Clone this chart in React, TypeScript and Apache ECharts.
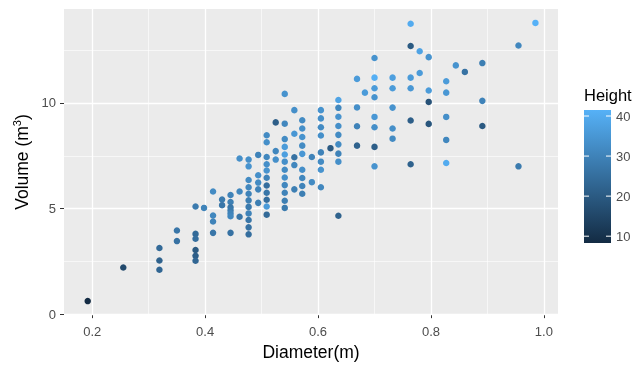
import React, { useEffect, useRef } from "react";
import * as echarts from "echarts";

const diameter = [
  0.192, 0.255, 0.319, 0.319, 0.319, 0.35, 0.35,
  0.383, 0.383, 0.383, 0.383, 0.383, 0.383, 0.398,
  0.414, 0.414, 0.414, 0.414, 0.43, 0.43,
  0.445, 0.445, 0.445, 0.445, 0.445, 0.445, 0.445,
  0.461, 0.461, 0.461,
  0.477, 0.477, 0.477, 0.477, 0.477, 0.477, 0.477, 0.477, 0.477, 0.477, 0.477,
  0.494, 0.494, 0.494, 0.494, 0.494,
  0.509, 0.509, 0.509, 0.509, 0.509, 0.509, 0.509, 0.509, 0.509, 0.509, 0.509,
  0.525, 0.525, 0.525,
  0.541, 0.541, 0.541, 0.541, 0.541, 0.541, 0.541, 0.541, 0.541, 0.541, 0.541, 0.541,
  0.558, 0.558, 0.558, 0.558, 0.558,
  0.572, 0.572, 0.572, 0.572, 0.572, 0.572, 0.572, 0.572, 0.572,
  0.589, 0.589,
  0.605, 0.605, 0.605, 0.605, 0.605, 0.605, 0.605, 0.605,
  0.622,
  0.636, 0.636, 0.636, 0.636, 0.636, 0.636, 0.636, 0.636, 0.636,
  0.669, 0.669, 0.669, 0.669,
  0.683,
  0.7, 0.7, 0.7, 0.7, 0.7, 0.7, 0.7, 0.7,
  0.732, 0.732, 0.732, 0.732, 0.732,
  0.764, 0.764, 0.764, 0.764, 0.764, 0.764,
  0.78, 0.78,
  0.796, 0.796, 0.796, 0.796,
  0.827, 0.827, 0.827, 0.827, 0.827,
  0.844, 0.86,
  0.891, 0.891, 0.891,
  0.955, 0.955,
  0.985,
];

const volume = [
  0.62, 2.21, 3.13, 2.54, 2.1, 3.96, 3.46,
  5.1, 3.8, 3.57, 3.04, 2.76, 2.53, 5.03,
  5.81, 4.67, 4.39, 3.85, 5.43, 5.16,
  5.64, 5.31, 5.06, 4.92, 4.78, 4.64, 3.85,
  7.37, 5.81, 4.61,
  7.32, 7.0, 6.35, 6.01, 5.7, 5.39, 5.08, 4.77, 4.46, 4.11, 3.78,
  7.54, 6.58, 6.23, 5.91, 5.27,
  8.47, 8.14, 7.44, 7.1, 6.8, 6.46, 6.09, 5.75, 5.42, 5.1, 4.71,
  9.08, 7.72, 7.32,
  10.43, 9.02, 8.29, 7.92, 7.56, 7.22, 6.84, 6.47, 6.11, 5.75, 5.37, 5.03,
  9.66, 8.54, 7.43, 7.06, 5.91,
  9.18, 8.79, 8.39, 7.98, 7.59, 6.84, 6.45, 6.07, 5.7,
  7.44, 6.25,
  9.66, 9.27, 8.85, 8.46, 7.66, 7.22, 6.84, 6.01,
  7.86,
  10.14, 9.77, 9.35, 8.91, 8.49, 8.04, 7.6, 7.22, 4.66,
  11.14, 9.79, 8.9, 7.98,
  10.49,
  12.13, 11.2, 10.7, 10.27, 9.34, 8.85, 7.92, 7.0,
  11.2, 10.7, 9.78, 8.79, 8.31,
  13.75, 12.7, 11.2, 10.7, 9.17, 7.1,
  12.45, 11.42,
  12.17, 10.59, 10.05, 9.01,
  11.03, 10.49, 9.34, 8.25, 7.16,
  11.78, 11.47,
  11.89, 10.1, 8.91,
  12.72, 7.0,
  13.79,
];

const height = [
  8.3, 16, 24, 22, 23, 27, 26,
  28, 24, 25, 20, 21, 23, 30,
  32, 31, 30, 27, 28, 27,
  30, 29, 27, 28, 30, 31, 26,
  33, 31, 27,
  33, 34, 32, 31, 30, 29, 28, 30, 27, 26, 25,
  30, 33, 32, 30, 29,
  32, 33, 31, 33, 34, 30, 25, 27, 25, 36, 24,
  21, 31, 33,
  34, 31, 32, 36, 37, 33, 32, 33, 31, 30, 29, 28,
  33, 35, 26, 31, 29,
  32, 33, 34, 32, 35, 33, 31, 30, 29,
  30, 32,
  34, 33, 32, 33, 30, 32, 34, 31,
  20,
  38, 31, 34, 33, 32, 32, 30, 33, 22,
  36, 33, 30, 22,
  36,
  34, 41, 36, 34, 35, 33, 21, 34,
  37, 36, 34, 33, 32,
  40, 20, 36, 35, 21, 22,
  38, 36,
  34, 36, 18, 19,
  36, 35, 33, 31, 40,
  34, 26,
  29, 30, 20,
  31, 28,
  41.5,
];

const xMajor = [0.2, 0.4, 0.6, 0.8, 1.0];
const xMinor = [0.3, 0.5, 0.7, 0.9];
const yMajor = [0, 5, 10];
const yMinor = [2.5, 7.5, 12.5];
const legendTicks = [10, 20, 30, 40];

const FONT = "Liberation Sans, Arial, sans-serif";
const LOW = "#132B43";
const HIGH = "#56B1F7";

export default function App() {
  const ref = useRef<HTMLDivElement>(null);

  useEffect(() => {
    if (!ref.current) return;
    const chart = echarts.init(ref.current, null, { renderer: "svg" });

    const hMin = Math.min(...height);
    const hMax = Math.max(...height);
    const barTop = 110;
    const barH = 133;
    const barLeft = 584;
    const barW = 27;
    const yOf = (v: number) => barTop + ((hMax - v) / (hMax - hMin)) * barH;

    const gridLines = [
      ...xMajor.map((v) => ({ xAxis: v, lineStyle: { width: 1.3 } })),
      ...xMinor.map((v) => ({ xAxis: v, lineStyle: { width: 0.6 } })),
      ...yMajor.map((v) => ({ yAxis: v, lineStyle: { width: 1.3 } })),
      ...yMinor.map((v) => ({ yAxis: v, lineStyle: { width: 0.6 } })),
    ];

    const graphics: any[] = [
      {
        type: "text",
        left: barLeft,
        top: 86,
        style: { text: "Height", font: `16.5px ${FONT}`, fill: "#000" },
      },
      {
        type: "rect",
        shape: { x: barLeft, y: barTop, width: barW, height: barH },
        style: {
          fill: new echarts.graphic.LinearGradient(0, 0, 0, 1, [
            { offset: 0, color: HIGH },
            { offset: 1, color: LOW },
          ]),
        },
      },
    ];
    legendTicks.forEach((t) => {
      const y = yOf(t);
      graphics.push(
        {
          type: "line",
          shape: { x1: barLeft, y1: y, x2: barLeft + 5, y2: y },
          style: { stroke: "#fff", lineWidth: 1 },
        },
        {
          type: "line",
          shape: { x1: barLeft + barW - 5, y1: y, x2: barLeft + barW, y2: y },
          style: { stroke: "#fff", lineWidth: 1 },
        },
        {
          type: "text",
          x: barLeft + barW + 5,
          y,
          style: {
            text: String(t),
            font: `13px ${FONT}`,
            fill: "#4D4D4D",
            verticalAlign: "middle",
            align: "left",
          },
        }
      );
    });

    chart.setOption({
      animation: false,
      textStyle: { fontFamily: FONT },
      grid: {
        left: 64,
        right: 82,
        top: 9,
        bottom: 46.5,
        show: true,
        backgroundColor: "#EBEBEB",
        borderWidth: 0,
      },
      xAxis: {
        type: "value",
        min: 0.15,
        max: 1.025,
        axisLine: { show: false },
        splitLine: { show: false },
        axisTick: {
          show: true,
          length: 4,
          lineStyle: { color: "#333333" },
          customValues: xMajor,
        },
        axisLabel: {
          customValues: xMajor,
          color: "#4D4D4D",
          fontSize: 13,
          margin: 9.5,
          formatter: (v: number) => v.toFixed(1),
        },
        name: "Diameter(m)",
        nameLocation: "middle",
        nameGap: 28,
        nameTextStyle: { color: "#000", fontSize: 17.5 },
      },
      yAxis: {
        type: "value",
        min: -0.04,
        max: 14.45,
        axisLine: { show: false },
        splitLine: { show: false },
        axisTick: {
          show: true,
          length: 4,
          lineStyle: { color: "#333333" },
          customValues: yMajor,
        },
        axisLabel: {
          customValues: yMajor,
          color: "#4D4D4D",
          fontSize: 13,
          margin: 8,
        },
        name: "Volume (m{sup|3})",
        nameLocation: "middle",
        nameRotate: 90,
        nameGap: 32,
        nameTextStyle: {
          color: "#000",
          fontSize: 17.5,
          rich: {
            sup: { fontSize: 11, color: "#000", padding: [0, 0, 10, 0] },
          },
        },
      },
      visualMap: {
        show: false,
        type: "continuous",
        seriesIndex: 1,
        dimension: 2,
        min: hMin,
        max: hMax,
        inRange: { color: [LOW, HIGH] },
      },
      graphic: graphics,
      series: [
        {
          type: "scatter",
          data: [],
          z: 1,
          zlevel: 0,
          silent: true,
          markLine: {
            z: 1,
            silent: true,
            symbol: ["none", "none"],
            label: { show: false },
            lineStyle: { color: "#FFFFFF", type: "solid" },
            data: gridLines,
          },
        },
        {
          type: "scatter",
          z: 10,
          symbolSize: 6.5,
          itemStyle: { opacity: 1 },
          data: diameter.map((d, i) => [d, volume[i], height[i]]),
        },
      ],
    });

    return () => chart.dispose();
  }, []);

  return (
    <div
      ref={ref}
      style={{ position: "fixed", left: 0, top: 0, width: 640, height: 366 }}
    />
  );
}
